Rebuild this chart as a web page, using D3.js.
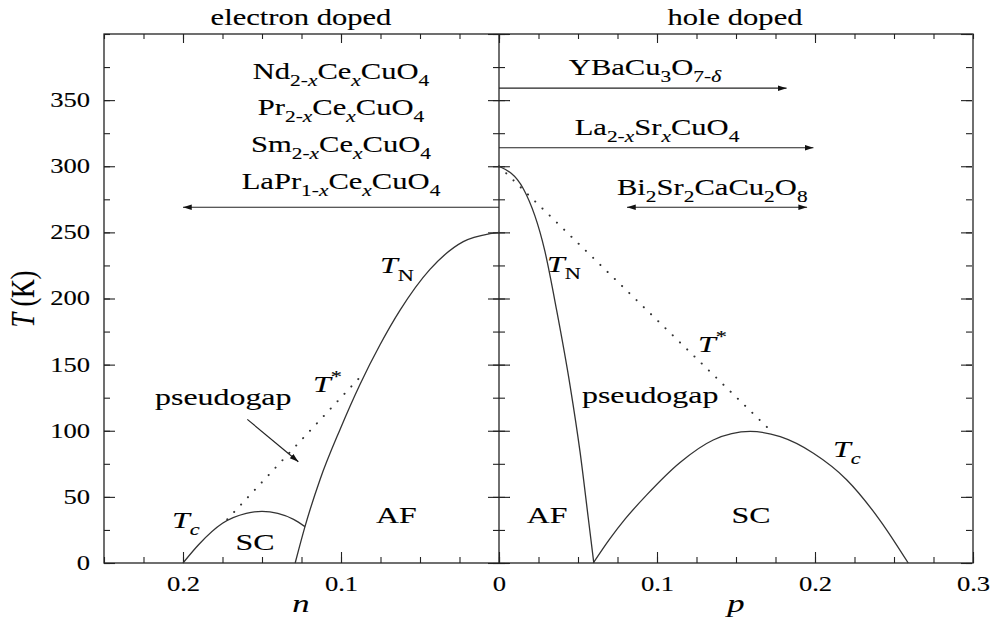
<!DOCTYPE html>
<html>
<head>
<meta charset="utf-8">
<script src="https://cdn.jsdelivr.net/npm/d3@7"></script>
<style>
  body { margin: 0; background: #fff; }
  svg { display: block; }
  svg text { font-family: "Liberation Serif", "Times New Roman", Times, "DejaVu Serif", serif !important;
    fill: #000; stroke: #000; stroke-width: 0.12px; }
</style>
</head>
<body>
<svg id="chart"></svg>
<script>
// --- data ---
const tTicks = [0, 50, 100, 150, 200, 250, 300, 350];
const tTickLabels = ["0", "50", "100", "150", "200", "250", "300", "350"];
const nTicks = [0.2, 0.1, 0];
const nTickLabels = ["0.2", "0.1", "0"];
const pTicks = [0.1, 0.2, 0.3];
const pTickLabels = ["0.1", "0.2", "0.3"];

// electron side: [n, T]
const electronTN = [[0, 250], [0.0057, 249], [0.0226, 243], [0.0437, 222], [0.0627, 191], [0.0753, 165],
  [0.088, 135], [0.1006, 101], [0.1133, 63], [0.1228, 27.5], [0.129, 0]];
const electronTc = [[0.2, 0], [0.19, 14], [0.175, 30], [0.16, 37.5], [0.15, 39], [0.14, 37.5], [0.13, 33], [0.1228, 27.5]];
const electronTstar = [[0.172, 33], [0.086, 143]];

// hole side: [p, T]
const holeTN = [[0, 300], [0.0154, 283], [0.029, 236], [0.0365, 191], [0.045, 134], [0.0513, 84], [0.0565, 34], [0.06, 0]];
const holeTc = [[0.0597, 0], [0.07, 18], [0.08, 33.5], [0.0935, 51.5], [0.1146, 76], [0.1356, 93], [0.159, 99.5],
  [0.178, 95.5], [0.199, 83], [0.22, 63], [0.241, 32.5], [0.259, 0]];
const holeTstar = [[0, 300], [0.172, 100]];

// compounds and the doping range arrows
const electronCompounds = ["Nd_{2-$x$}Ce_{$x$}CuO_{4}", "Pr_{2-$x$}Ce_{$x$}CuO_{4}",
  "Sm_{2-$x$}Ce_{$x$}CuO_{4}", "LaPr_{1-$x$}Ce_{$x$}CuO_{4}"];
const electronCompoundT = [366, 338.5, 310.5, 282.5];
const holeCompounds = ["YBaCu_{3}O_{7-$δ$}", "La_{2-$x$}Sr_{$x$}CuO_{4}", "Bi_{2}Sr_{2}CaCu_{2}O_{8}"];
const holeCompoundT = [369, 323.5, 278];
const holeCompoundP = [0.0924, 0.1, 0.135];
const electronRange = [{ from: 0, to: 0.2, T: 269 }];
const holeRanges = [{ from: 0, to: 0.182, T: 359, both: false },
  { from: 0, to: 0.199, T: 314, both: false },
  { from: 0.081, to: 0.195, T: 269, both: true }];

// --- layout ---
const width = 990, height = 621;
const SX = 1.33; // glyphs in the picture are drawn wide
const FONT = "'Liberation Serif', 'Times New Roman', Times, 'DejaVu Serif', serif";

const y = d3.scaleLinear([0, 400], [563, 34]);
const xn = d3.scaleLinear([0.25, 0], [104, 499]);
const xp = d3.scaleLinear([0, 0.3], [499, 973]);

const svg = d3.select("#chart").attr("width", width).attr("height", height)
  .attr("font-family", FONT);

const defs = svg.append("defs");
defs.append("marker")
  .attr("id", "head")
  .attr("viewBox", "0 -4 10 8")
  .attr("refX", 10).attr("refY", 0)
  .attr("markerWidth", 9).attr("markerHeight", 7)
  .attr("markerUnits", "userSpaceOnUse")
  .attr("orient", "auto-start-reverse")
  .append("path").attr("d", "M0,-3.2L10,0L0,3.2Z").attr("fill", "#111");

// rich text: _{..} subscript, ^{..} superscript, $..$ italic
function parseRich(s) {
  const runs = [];
  let italic = false, level = 0, buf = "";
  const flush = () => { if (buf) runs.push({ t: buf, italic, level }); buf = ""; };
  for (let i = 0; i < s.length; i++) {
    const c = s[i];
    if ((c === "_" || c === "^") && s[i + 1] === "{") { flush(); level = c === "_" ? -1 : 1; i++; }
    else if (c === "}") { flush(); level = 0; }
    else if (c === "$") { flush(); italic = !italic; }
    else buf += c;
  }
  flush();
  return runs;
}

function richText(parent, str, x, yy, size, anchor = "start") {
  const t = parent.append("text")
    .attr("transform", `translate(${x},${yy}) scale(${SX},1)`)
    .attr("text-anchor", anchor)
    .attr("font-family", FONT)
    .attr("font-size", size);
  let shift = 0;
  parseRich(str).forEach(r => {
    const target = r.level === -1 ? 0.3 * size : r.level === 1 ? -0.42 * size : 0;
    t.append("tspan")
      .attr("dy", target - shift)
      .attr("font-size", r.level ? size * 0.7 : size)
      .attr("font-style", r.italic ? "italic" : null)
      .text(r.t);
    shift = target;
  });
  return t;
}

// --- axes with inward ticks ---
function ticksGroup(axis, tx, ty) {
  const g = svg.append("g").attr("transform", `translate(${tx},${ty})`).call(axis);
  g.attr("font-family", FONT);
  g.select(".domain").remove();
  g.selectAll("line").attr("stroke", "#222").attr("stroke-width", 1.1);
  return g;
}
const minorT = d3.range(0, 401, 25);
const minorN = d3.range(0, 0.2501, 0.025);
const minorP = d3.range(0, 0.3001, 0.025);

// left edge
ticksGroup(d3.axisLeft(y).tickValues(minorT).tickSize(-6).tickFormat(""), 104, 0);
const yAxis = ticksGroup(d3.axisLeft(y).tickValues(tTicks).tickSize(-11).tickPadding(10)
  .tickFormat((d, i) => tTickLabels[i]), 104, 0);
// right edge and the shared middle line
ticksGroup(d3.axisRight(y).tickValues(minorT).tickSize(-6).tickFormat(""), 972, 0);
ticksGroup(d3.axisRight(y).tickValues(d3.range(0, 401, 50)).tickSize(-11).tickFormat(""), 972, 0);
ticksGroup(d3.axisRight(y).tickValues(minorT).tickSize(-6).tickFormat(""), 499, 0);
ticksGroup(d3.axisRight(y).tickValues(d3.range(0, 401, 50)).tickSize(-11).tickFormat(""), 499, 0);
ticksGroup(d3.axisLeft(y).tickValues(minorT).tickSize(-6).tickFormat(""), 499, 0);
ticksGroup(d3.axisLeft(y).tickValues(d3.range(0, 401, 50)).tickSize(-11).tickFormat(""), 499, 0);

// bottom
ticksGroup(d3.axisBottom(xn).tickValues(minorN).tickSize(-6).tickFormat(""), 0, 563);
const nAxis = ticksGroup(d3.axisBottom(xn).tickValues(nTicks).tickSize(-11).tickPadding(14)
  .tickFormat((d, i) => nTickLabels[i]), 0, 563);
ticksGroup(d3.axisBottom(xp).tickValues(minorP).tickSize(-6).tickFormat(""), 0, 563);
const pAxis = ticksGroup(d3.axisBottom(xp).tickValues(pTicks).tickSize(-11).tickPadding(14)
  .tickFormat((d, i) => pTickLabels[i]), 0, 563);
// top
ticksGroup(d3.axisTop(xn).tickValues(minorN).tickSize(-5).tickFormat(""), 0, 34);
ticksGroup(d3.axisTop(xn).tickValues(nTicks).tickSize(-9).tickFormat(""), 0, 34);
ticksGroup(d3.axisTop(xp).tickValues(minorP).tickSize(-5).tickFormat(""), 0, 34);
ticksGroup(d3.axisTop(xp).tickValues([0.1, 0.2]).tickSize(-9).tickFormat(""), 0, 34);

[yAxis, nAxis, pAxis].forEach(g => g.selectAll("text")
  .attr("font-family", FONT)
  .attr("font-size", 20)
  .attr("transform", `scale(${SX},1)`));
yAxis.selectAll("text").attr("x", -14 / SX);

// frames
svg.append("rect").attr("x", xn(0.25)).attr("y", y(400))
  .attr("width", xp(0.3) - xn(0.25)).attr("height", y(0) - y(400))
  .attr("fill", "none").attr("stroke", "#222").attr("stroke-width", 1.3);
svg.append("line").attr("x1", xn(0)).attr("x2", xn(0)).attr("y1", y(400)).attr("y2", y(0))
  .attr("stroke", "#222").attr("stroke-width", 1.3);

// --- curves ---
const lineN = d3.line().x(d => xn(d[0])).y(d => y(d[1])).curve(d3.curveMonotoneX);
const lineP = d3.line().x(d => xp(d[0])).y(d => y(d[1])).curve(d3.curveMonotoneX);
const solid = sel => sel.attr("fill", "none").attr("stroke", "#333").attr("stroke-width", 1.3);
const dotted = sel => sel.attr("fill", "none").attr("stroke", "#333").attr("stroke-width", 2)
  .attr("stroke-linecap", "round").attr("stroke-dasharray", "0.1,10");

// monotone curves want ascending pixel x
const byX = (arr, sx) => arr.slice().sort((a, b) => sx(a[0]) - sx(b[0]));
svg.append("path").datum(byX(electronTN, xn)).attr("d", lineN).call(solid);
svg.append("path").datum(byX(electronTc, xn)).attr("d", lineN).call(solid);
svg.append("path").datum(electronTstar).attr("d", lineN).call(dotted);
svg.append("path").datum(holeTN).attr("d", lineP).call(solid);
svg.append("path").datum(holeTc).attr("d", lineP).call(solid);
svg.append("path").datum(holeTstar).attr("d", lineP).call(dotted);

// --- doping range arrows ---
electronRange.forEach(r => {
  svg.append("line")
    .attr("x1", xn(r.from)).attr("x2", xn(r.to)).attr("y1", y(r.T)).attr("y2", y(r.T))
    .attr("stroke", "#222").attr("stroke-width", 1.2).attr("marker-end", "url(#head)");
});
holeRanges.forEach(r => {
  svg.append("line")
    .attr("x1", xp(r.from)).attr("x2", xp(r.to)).attr("y1", y(r.T)).attr("y2", y(r.T))
    .attr("stroke", "#222").attr("stroke-width", 1.2)
    .attr("marker-end", "url(#head)")
    .attr("marker-start", r.both ? "url(#head)" : null);
});

// pseudogap pointer on the electron side
svg.append("line")
  .attr("x1", xn(0.1593)).attr("y1", y(108.6))
  .attr("x2", xn(0.127)).attr("y2", y(76.6))
  .attr("stroke", "#222").attr("stroke-width", 1.2).attr("marker-end", "url(#head)");

// --- text ---
electronCompounds.forEach((s, i) => richText(svg, s, xn(0.1), y(electronCompoundT[i]), 23, "middle"));
holeCompounds.forEach((s, i) => richText(svg, s, xp(holeCompoundP[i]), y(holeCompoundT[i]), 23, "middle"));

richText(svg, "electron doped", 301, 25, 23, "middle");
richText(svg, "hole doped", 735, 25, 23, "middle");

// region and line labels
richText(svg, "$T$_{N}", xn(0.0753), y(219), 24);
richText(svg, "$T$^{*}", xn(0.1177), y(129), 24);
richText(svg, "pseudogap", xn(0.2177), y(119.4), 24);
richText(svg, "$T$_{$c$}", xn(0.207), y(26.5), 24);
richText(svg, "SC", xn(0.1544), y(9.8), 24, "middle");
richText(svg, "AF", xn(0.065), y(30), 24, "middle");

richText(svg, "$T$_{N}", xp(0.0304), y(220), 24);
richText(svg, "$T$^{*}", xp(0.126), y(159.5), 24);
richText(svg, "pseudogap", xp(0.0525), y(121), 24);
richText(svg, "$T$_{$c$}", xp(0.2114), y(80), 24);
richText(svg, "AF", xp(0.0304), y(30), 24, "middle");
richText(svg, "SC", xp(0.1595), y(30), 24, "middle");

// axis titles
richText(svg, "$n$", 301, 612, 26, "middle");
richText(svg, "$p$", 736, 612, 26, "middle");
svg.append("text")
  .attr("transform", "translate(34,299) rotate(-90) scale(1,1.3)")
  .attr("text-anchor", "middle")
  .attr("font-family", FONT)
  .attr("font-size", 26)
  .call(t => {
    t.append("tspan").attr("font-style", "italic").text("T");
    t.append("tspan").text(" (K)");
  });
</script>
</body>
</html>
